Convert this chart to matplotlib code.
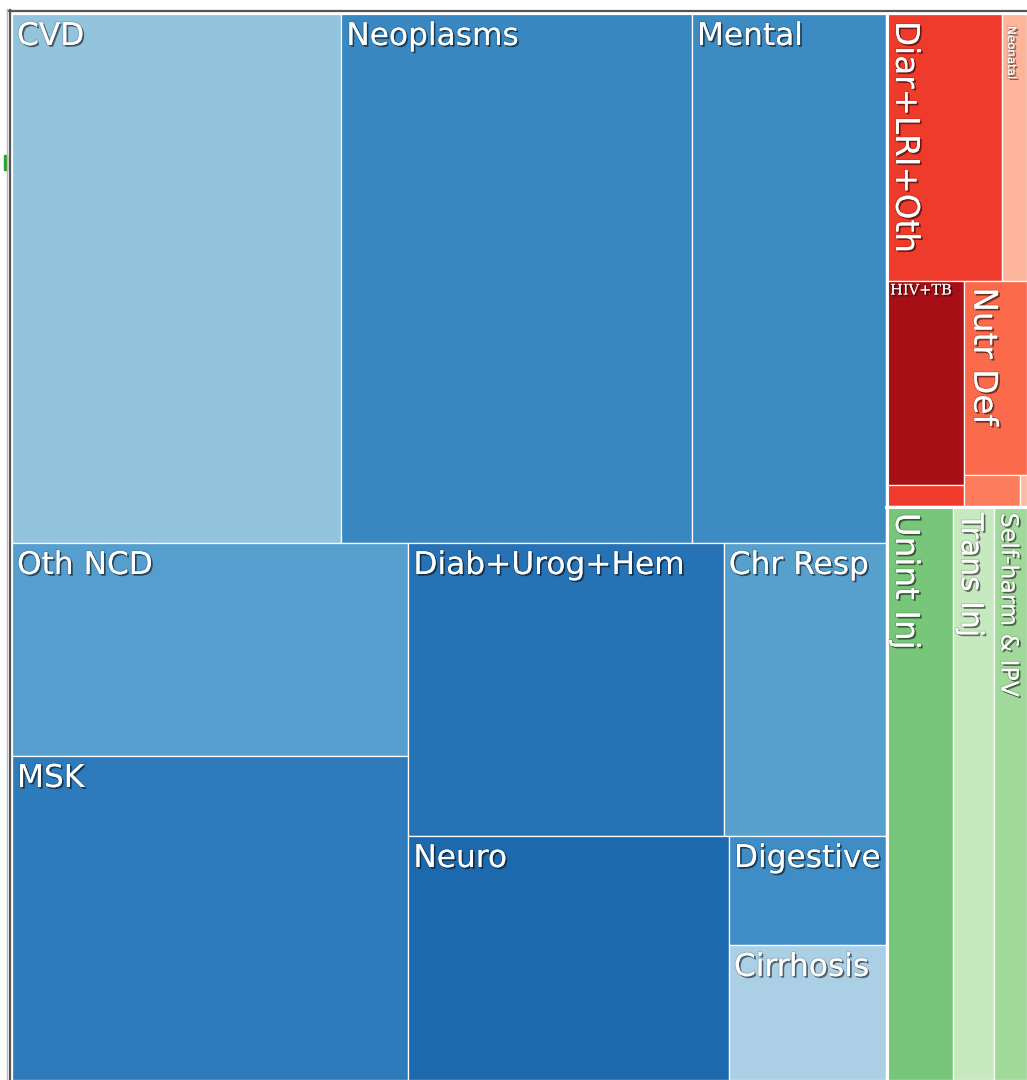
import matplotlib.pyplot as plt
import matplotlib.patches as mpatches
import matplotlib.patheffects as pe
from matplotlib.lines import Line2D

# Cell names, sizes (share of total burden, arbitrary units) and colours
names = ['CVD', 'Neoplasms', 'Mental',
         'Oth NCD', 'MSK', 'Diab+Urog+Hem', 'Chr Resp', 'Neuro', 'Digestive', 'Cirrhosis',
         'Diar+LRI+Oth', 'Neonatal', 'HIV+TB', 'Oth Inf', 'Nutr Def', 'Mat', 'NTD',
         'Unint Inj', 'Trans Inj', 'Self-harm & IPV']
values = [174.0, 185.2, 102.6,
          84.3, 128.3, 92.3, 47.5, 78.1, 17.1, 21.2,
          30.8, 6.7, 16.0, 1.6, 12.2, 1.7, 0.2,
          38.3, 23.3, 19.2]
colors = ['#93c4de', '#3a88c1', '#3d8bc3',
          '#559ecd', '#2d7bba', '#2772b4', '#579fcc', '#1d69ad', '#3f8dc6', '#abcfe5',
          '#ef3b2c', '#fcb59b', '#a50f15', '#ef3b2c', '#fb6a4a', '#fc7c5d', '#fcbba1',
          '#78c679', '#c7e9c0', '#a1d99b']
shown = ['CVD', 'Neoplasms', 'Mental', 'Oth NCD', 'MSK', 'Diab+Urog+Hem', 'Chr Resp',
         'Neuro', 'Digestive', 'Cirrhosis', 'Diar+LRI+Oth', 'Neonatal', 'HIV+TB',
         'Nutr Def', 'Unint Inj', 'Trans Inj', 'Self-harm & IPV']

val = dict(zip(names, values))
col = dict(zip(names, colors))

# nesting of the treemap: 'h' = side by side, 'v' = stacked
blue = ('v', [('h', ['CVD', 'Neoplasms', 'Mental']),
              ('h', [('v', ['Oth NCD', 'MSK']),
                     ('v', [('h', ['Diab+Urog+Hem', 'Chr Resp']),
                            ('h', ['Neuro', ('v', ['Digestive', 'Cirrhosis'])])])])])
red = ('v', [('h', ['Diar+LRI+Oth', 'Neonatal']),
             ('h', [('v', ['HIV+TB', 'Oth Inf']),
                    ('v', ['Nutr Def', ('h', ['Mat', 'NTD'])])])])
green = ('h', ['Unint Inj', 'Trans Inj', 'Self-harm & IPV'])
tree = ('h', [blue, ('v', [red, green])])


def total(node):
    if isinstance(node, str):
        return val[node]
    return sum(total(k) for k in node[1])


rects = {}


def place(node, x, y, w, h):
    if isinstance(node, str):
        rects[node] = (x, y, w, h)
        return
    t = total(node)
    off = 0
    for k in node[1]:
        f = total(k) / t
        if node[0] == 'h':
            place(k, x + off, y, w * f, h)
            off += w * f
        else:
            place(k, x, y + off, w, h * f)
            off += h * f


fig = plt.figure(figsize=(10.27, 10.8), dpi=100)
ax = fig.add_axes([0, 0, 1, 1])
ax.set_xlim(0, 1027)
ax.set_ylim(1080, 0)
ax.axis('off')

place(tree, 12, 14, 1015, 1066)

for n in names:
    x, y, w, h = rects[n]
    ax.add_patch(mpatches.Rectangle((x, y), w, h, facecolor=col[n],
                                    edgecolor='white', linewidth=0.9))

# white gaps between the three top groups
bx = rects['Mental'][0] + rects['Mental'][2]
ax.plot([bx + 1, bx + 1], [14, 1080], color='white', lw=2.2)
ry = rects['Oth Inf'][1] + rects['Oth Inf'][3]
ax.plot([bx, 1027], [ry + 1, ry + 1], color='white', lw=2.2)

shadow = [pe.SimplePatchShadow(offset=(1.3, -1.3), shadow_rgbFace='black', alpha=0.5),
          pe.Stroke(linewidth=1.6, foreground=(0, 0, 0, 0.12)),
          pe.Normal()]

size = {'Neonatal': 8.5, 'HIV+TB': 10.5, 'Trans Inj': 21.5, 'Self-harm & IPV': 17,
        'Diar+LRI+Oth': 23.5, 'Nutr Def': 23.5, 'Unint Inj': 23.5}
vertical = ['Diar+LRI+Oth', 'Neonatal', 'Nutr Def', 'Unint Inj', 'Trans Inj', 'Self-harm & IPV']

for n in shown:
    x, y, w, h = rects[n]
    fs = size.get(n, 22.5)
    if n in vertical:
        dy = 12 if n == 'Neonatal' else 7
        ax.text(x + 3, y + dy, n, rotation=270, ha='left', va='top', fontsize=fs,
                color='white', path_effects=shadow, family='DejaVu Sans')
    elif n == 'HIV+TB':
        ax.text(x + 4, y + 3, n, ha='left', va='top', fontsize=fs,
                color='white', path_effects=shadow, family='DejaVu Serif')
    else:
        ax.text(x + 5, y + 8, n, ha='left', va='top', fontsize=fs,
                color='white', path_effects=shadow, family='DejaVu Sans')

# frame of the surrounding panel
fig.add_artist(Line2D([8 / 1027, 1], [1 - 10.5 / 1080, 1 - 10.5 / 1080], color='#555555', lw=1.6))
fig.add_artist(Line2D([9.5 / 1027, 9.5 / 1027], [0, 1 - 10 / 1080], color='#555555', lw=1.6))
fig.add_artist(Line2D([6.5 / 1027, 6.5 / 1027], [0, 1 - 9 / 1080], color='#bbbbbb', lw=1.0))
fig.add_artist(mpatches.Rectangle((4 / 1027, 1 - 170 / 1080), 2.5 / 1027, 15 / 1080,
                                  color='#2ca02c', transform=fig.transFigure))

fig.savefig('out.png', dpi=100)
